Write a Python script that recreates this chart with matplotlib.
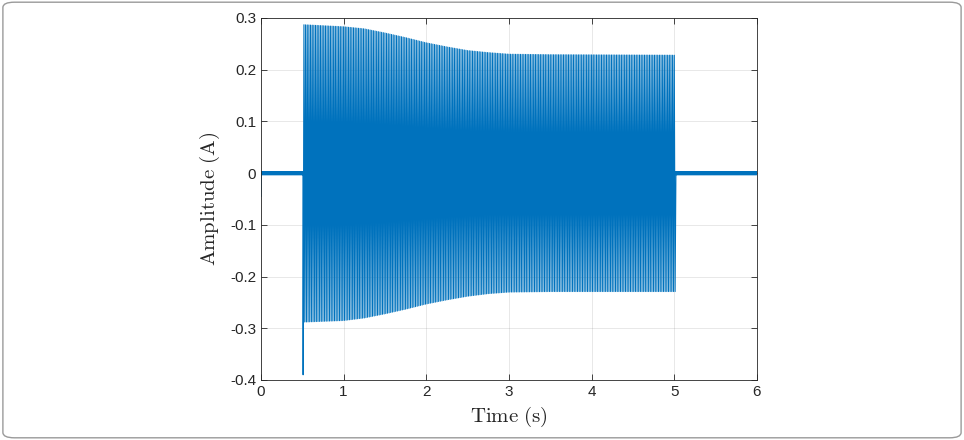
import numpy as np
import matplotlib
matplotlib.use("Agg")
import matplotlib.pyplot as plt
from matplotlib.patches import FancyBboxPatch

# envelope of the current burst (time s, peak A)
env_t = [0.51, 1.0, 1.25, 1.5, 1.75, 2.0, 2.25, 2.5, 2.75, 3.0, 3.5, 5.02]
env_pos = [0.287, 0.283, 0.279, 0.271, 0.262, 0.252, 0.244, 0.237, 0.233, 0.230, 0.229, 0.228]
env_neg = [-0.288, -0.285, -0.280, -0.272, -0.263, -0.253, -0.245, -0.238, -0.233, -0.230, -0.229, -0.229]

carrier_hz = 50.0
burst_start = 0.51
burst_end = 5.02
inrush_peak = -0.39      # first negative spike at switch-on
start_spike = -0.045     # small dip at t = 0
noise_level = 0.003      # idle band either side of the burst

xticks = [0, 1, 2, 3, 4, 5, 6]
yticks = [-0.4, -0.3, -0.2, -0.1, 0, 0.1, 0.2, 0.3]
ytick_labels = ["-0.4", "-0.3", "-0.2", "-0.1", "0", "0.1", "0.2", "0.3"]

########## build the trace ##########

# idle noise before the burst (alternating band)
t_pre = np.arange(0.0, burst_start, 0.002)
y_pre = noise_level * np.where(np.arange(len(t_pre)) % 2 == 0, 1, -1)
y_pre[0] = start_spike

# burst: half-cycle peaks following the envelope
t_burst = np.arange(burst_start, burst_end, 1 / (2 * carrier_hz))
sign = np.where(np.arange(len(t_burst)) % 2 == 0, -1, 1)
y_burst = np.where(sign > 0,
                   np.interp(t_burst, env_t, env_pos),
                   np.interp(t_burst, env_t, env_neg))
y_burst[0] = inrush_peak

# idle noise after the burst
t_post = np.arange(burst_end, 6.0, 0.002)
y_post = noise_level * np.where(np.arange(len(t_post)) % 2 == 0, 1, -1)

t = np.concatenate([t_pre, t_burst, t_post])
y = np.concatenate([y_pre, y_burst, y_post])

########## plot ##########

plt.rcParams['font.family'] = ['Liberation Sans', 'DejaVu Sans']
plt.rcParams['mathtext.fontset'] = 'cm'

fig = plt.figure(figsize=(9.64, 4.4), dpi=100)
ax = fig.add_axes([0.2707, 0.1364, 0.5145, 0.8227])

ax.plot(t, y, color='#0072BD', linewidth=0.8)

ax.set_xlim(0, 6)
ax.set_ylim(-0.4, 0.3)
ax.set_xticks(xticks)
ax.set_xticklabels([str(v) for v in xticks])
ax.set_yticks(yticks)
ax.set_yticklabels(ytick_labels)

ax.grid(True, color='#262626', alpha=0.12, linewidth=0.6)
ax.tick_params(direction='in', top=True, right=True, length=4,
               width=0.6, color='#262626', labelsize=11, labelcolor='#262626')
for sp in ax.spines.values():
    sp.set_color('#262626')
    sp.set_linewidth(0.6)

ax.set_xlabel(r'$\mathrm{Time\ (s)}$', fontsize=15, color='#262626', labelpad=4)
ax.set_ylabel(r'$\mathrm{Amplitude\ (A)}$', fontsize=15, color='#262626', labelpad=6)

# rounded frame around the whole figure
frame = FancyBboxPatch((0.003, 0.005), 0.994, 0.99,
                       boxstyle="round,pad=0,rounding_size=0.012",
                       transform=fig.transFigure, fill=False,
                       edgecolor='#9a9a9a', linewidth=1.0)
fig.patches.append(frame)

fig.savefig("out.png", dpi=100)
